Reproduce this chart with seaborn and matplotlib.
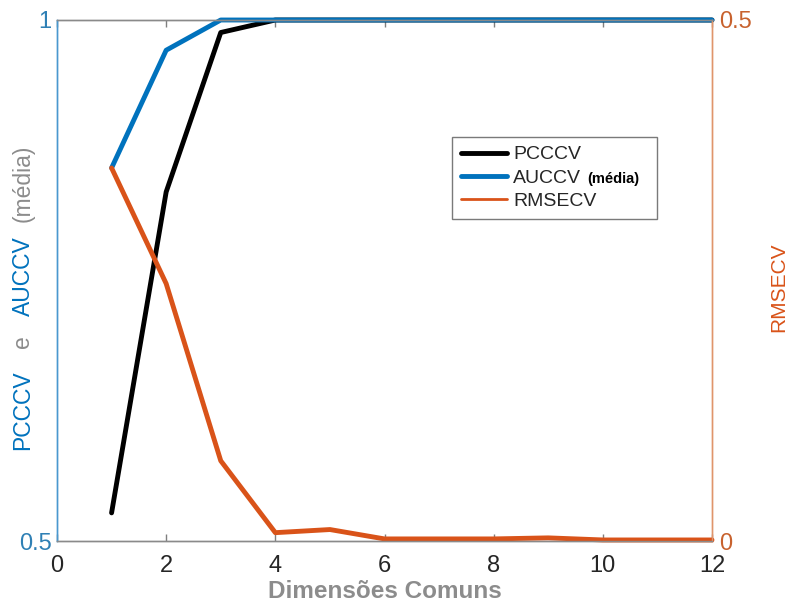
import matplotlib
matplotlib.use("Agg")
import matplotlib.pyplot as plt
from matplotlib.lines import Line2D
from matplotlib.offsetbox import TextArea, DrawingArea
import seaborn as sns
import pandas as pd

dims = [1, 2, 3, 4, 5, 6, 7, 8, 9, 10, 11, 12]
pcccv = [0.527, 0.835, 0.988, 1.0, 1.0, 1.0, 1.0, 1.0, 1.0, 1.0, 1.0, 1.0]
auccv = [0.858, 0.971, 1.0, 1.0, 1.0, 1.0, 1.0, 1.0, 1.0, 1.0, 1.0, 1.0]
rmsecv = [0.358, 0.247, 0.077, 0.008, 0.011, 0.002, 0.002, 0.002, 0.003, 0.001, 0.001, 0.001]
xticks = [0, 2, 4, 6, 8, 10, 12]
left_ticks = [0.5, 1.0]
left_ticklabels = ["0.5", "1"]
right_ticks = [0.0, 0.5]
right_ticklabels = ["0", "0.5"]

df = pd.DataFrame({"dim": dims, "pcccv": pcccv, "auccv": auccv, "rmsecv": rmsecv})

sns.set_theme(style="white")
plt.rcParams["font.family"] = ["Liberation Sans", "DejaVu Sans"]

BLUE = "#0072BD"
ORANGE = "#D95319"
GRAY = "#8c8c8c"

fig = plt.figure(figsize=(7.91, 6.02), dpi=100)
ax = fig.add_axes([57 / 791, 1 - 541 / 602, (712 - 57) / 791, (541 - 20) / 602])
ax2 = ax.twinx()

sns.lineplot(data=df, x="dim", y="pcccv", ax=ax, color="black", lw=3.5, clip_on=False)
sns.lineplot(data=df, x="dim", y="auccv", ax=ax, color=BLUE, lw=3.5, clip_on=False)
sns.lineplot(data=df, x="dim", y="rmsecv", ax=ax2, color=ORANGE, lw=3.5, clip_on=False)

ax.set_xlim(0, 12)
ax.set_ylim(0.5, 1.0)
ax2.set_ylim(0, 0.5)
ax.set_xticks(xticks)
ax.set_xticklabels([str(t) for t in xticks], fontsize=17, color="#262626")
ax.set_yticks(left_ticks)
ax.set_yticklabels(left_ticklabels, fontsize=17, color="#2f80b5")
ax2.set_yticks(right_ticks)
ax2.set_yticklabels(right_ticklabels, fontsize=17, color="#c8622e")

ax.tick_params(axis="x", direction="in", length=5, width=1, color="#7f7f7f", top=True, bottom=True, pad=10)
ax.tick_params(axis="y", direction="in", length=0, pad=4)
ax2.tick_params(axis="y", direction="in", length=0, pad=5)

for a in (ax, ax2):
    a.set_xlabel("")
    a.set_ylabel("")
    for s in a.spines.values():
        s.set_linewidth(1)
for a in (ax, ax2):
    a.spines["top"].set_color("#8a8a8a")
    a.spines["bottom"].set_color("#8a8a8a")
    a.spines["left"].set_color("#4a98cf")
    a.spines["right"].set_color("#e0956b")

ax.set_xlabel("Dimensões Comuns", fontsize=17.5, fontweight="bold", color=GRAY)
ax.xaxis.set_label_coords(0.5, (541 - 592) / 521)
ax.xaxis.label.set_va("center")

ax2.set_ylabel("RMSECV", fontsize=15, color=ORANGE, rotation=90)
ax2.yaxis.set_label_coords((779 - 57) / 655, (541 - 287) / 521)
ax2.yaxis.label.set_va("center")

handles = [
    Line2D([], [], color="black", lw=3.5),
    Line2D([], [], color=BLUE, lw=3.5),
    Line2D([], [], color=ORANGE, lw=2),
]
leg = ax2.legend(handles, ["PCCCV", "AUCCV", "RMSECV"], loc="upper left",
                 bbox_to_anchor=((452 - 57) / 655, (541 - 137) / 521), fontsize=14, frameon=True,
                 fancybox=False, framealpha=1, edgecolor="#7a7a7a",
                 handlelength=2.4, labelspacing=0.3, borderpad=0.45,
                 handletextpad=0.3, borderaxespad=0)
leg.get_frame().set_linewidth(1)

# append a small bold "(média)" inside the AUCCV legend row
row = leg._legend_handle_box.get_children()[0].get_children()[1]
extra = [
    TextArea("(média)", textprops=dict(fontsize=10.5, fontweight="bold", color="black")),
    DrawingArea(2, 1),
]
for c in extra:
    c.set_figure(fig)
row.get_children().extend(extra)

fig.canvas.draw()
renderer = fig.canvas.get_renderer()

# multi-coloured left y label
pieces = [("PCCCV", BLUE), ("e", GRAY), ("AUCCV", BLUE), ("(média)", GRAY)]
gaps = [22, 20, 14]
fs = 16.5
texts = []
for s, c in pieces:
    t = fig.text(0, 0, s, fontsize=fs, color=c, rotation=90, ha="center", va="bottom")
    texts.append(t)
heights = [t.get_window_extent(renderer).height for t in texts]
y = 602 - 450
xpix = 23
for i, (t, h) in enumerate(zip(texts, heights)):
    t.set_position((xpix / 791, y / 602))
    y += h + (gaps[i] if i < len(gaps) else 0)

fig.savefig("out.png", dpi=100, facecolor="white")
